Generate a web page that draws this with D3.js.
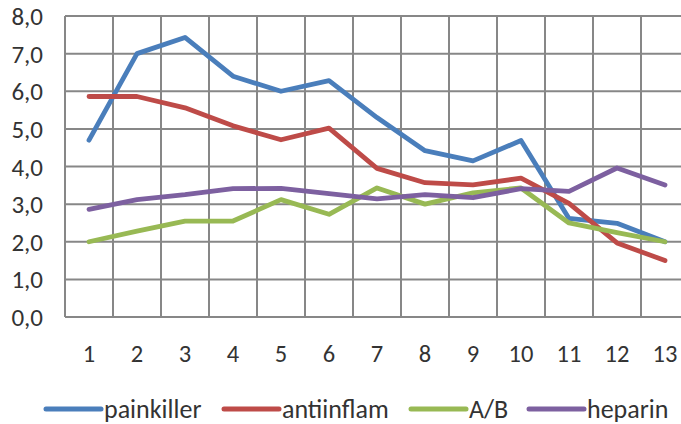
<!DOCTYPE html>
<html>
<head>
<meta charset="utf-8">
<script src="https://cdn.jsdelivr.net/npm/d3@7"></script>
<style>
  html, body { margin: 0; padding: 0; background: #fff; }
  svg { display: block; }
  text { font-family: Carlito, Lato, "Open Sans", sans-serif; fill: #333; }
</style>
</head>
<body>
<script>
// Categories along the x axis
const categories = ["1","2","3","4","5","6","7","8","9","10","11","12","13"];

// Series values
const painkiller = [4.7, 7.0, 7.43, 6.4, 6.0, 6.28, 5.3, 4.42, 4.15, 4.69, 2.62, 2.49, 2.0];
const antiinflam = [5.86, 5.86, 5.56, 5.08, 4.71, 5.02, 3.95, 3.57, 3.51, 3.69, 3.02, 1.97, 1.5];
const ab         = [2.0, 2.28, 2.55, 2.55, 3.12, 2.73, 3.43, 3.0, 3.3, 3.43, 2.5, 2.24, 2.0];
const heparin    = [2.86, 3.12, 3.25, 3.41, 3.42, 3.28, 3.14, 3.25, 3.17, 3.41, 3.34, 3.96, 3.51];

const seriesNames = ["painkiller", "antiinflam", "A/B", "heparin"];
const seriesColors = ["#4A7EBB", "#BE4B48", "#98B954", "#7D60A0"];
const seriesValues = [painkiller, antiinflam, ab, heparin];

// Y axis tick values
const yTicks = [0, 1, 2, 3, 4, 5, 6, 7, 8];

const W = 681, H = 424;
const plot = { left: 65, right: 689, top: 16, bottom: 317 };

const svg = d3.select("body").append("svg")
  .attr("width", W).attr("height", H);

const x = d3.scaleBand().domain(categories).range([plot.left, plot.right]).padding(0);
const y = d3.scaleLinear().domain([0, 8]).range([plot.bottom, plot.top]);

const gridColor = "#878787";
const fmt = v => d3.format(".1f")(v).replace(".", ",");

// Horizontal gridlines
svg.append("g").selectAll("line").data(yTicks).join("line")
  .attr("x1", plot.left).attr("x2", plot.right)
  .attr("y1", d => y(d)).attr("y2", d => y(d))
  .attr("stroke", gridColor).attr("stroke-width", 2);

// Vertical gridlines at category boundaries
const bounds = categories.map(c => x(c)).concat([plot.right]);
svg.append("g").selectAll("line").data(bounds).join("line")
  .attr("x1", d => d).attr("x2", d => d)
  .attr("y1", plot.top).attr("y2", plot.bottom)
  .attr("stroke", gridColor).attr("stroke-width", 2);

// Y axis labels
svg.append("g").selectAll("text").data(yTicks).join("text")
  .attr("x", 43).attr("y", d => y(d))
  .attr("dy", "0.36em")
  .attr("text-anchor", "end")
  .attr("font-size", 25)
  .text(fmt);

// X axis labels
svg.append("g").selectAll("text").data(categories).join("text")
  .attr("x", d => x(d) + x.bandwidth() / 2).attr("y", 362)
  .attr("text-anchor", "middle")
  .attr("font-size", 24.5)
  .text(d => d);

// Series lines
const line = d3.line()
  .x((d, i) => x(categories[i]) + x.bandwidth() / 2)
  .y(d => y(d));

svg.append("g").selectAll("path").data(seriesValues).join("path")
  .attr("d", d => line(d))
  .attr("fill", "none")
  .attr("stroke", (d, i) => seriesColors[i])
  .attr("stroke-width", 4.8)
  .attr("stroke-linejoin", "round")
  .attr("stroke-linecap", "round");

// Legend
const legendX = [46, 224, 411, 529];
const lg = svg.append("g").selectAll("g").data(seriesNames).join("g")
  .attr("transform", (d, i) => `translate(${legendX[i]},409)`);
lg.append("line")
  .attr("x1", 0).attr("x2", 55)
  .attr("stroke", (d, i) => seriesColors[i])
  .attr("stroke-width", 5)
  .attr("stroke-linecap", "round");
lg.append("text")
  .attr("x", 58).attr("y", 9)
  .attr("font-size", 26)
  .text(d => d);
</script>
</body>
</html>
